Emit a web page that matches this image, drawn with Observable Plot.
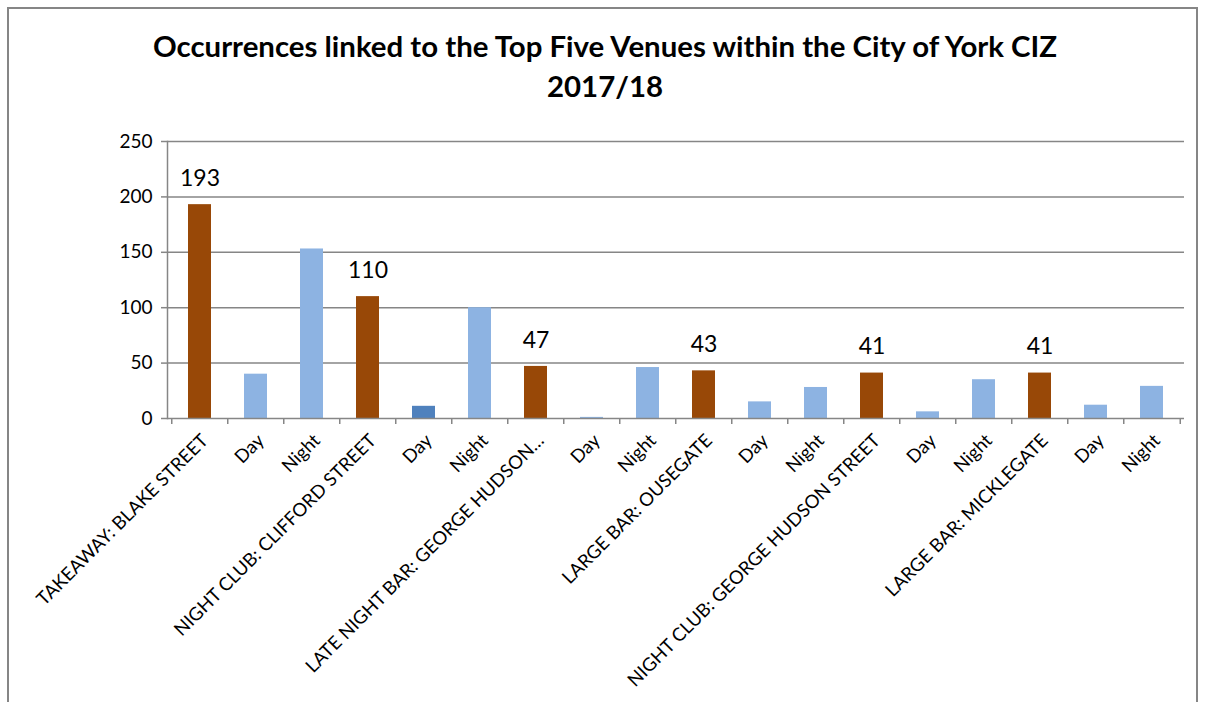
<!DOCTYPE html>
<html>
<head>
<meta charset="utf-8">
<script src="https://cdn.jsdelivr.net/npm/d3@7"></script>
<script src="https://cdn.jsdelivr.net/npm/@observablehq/plot@0.6"></script>
<style>
  html, body { margin: 0; padding: 0; background: #fff; overflow: hidden; }
  #wrap { position: relative; width: 1206px; height: 702px; }
  #border { position: absolute; left: 7px; top: 7px; width: 1191px; height: 800px; border: 2px solid #868686; box-sizing: border-box; }
  #title { position: absolute; left: 0; top: 26px; width: 1210px; text-align: center; font-family: Lato, sans-serif; font-weight: bold; font-size: 29.4px; line-height: 40px; color: #000; }
  #chart { position: absolute; left: 0; top: 0; }
</style>
</head>
<body>
<div id="wrap">
  <div id="border"></div>
  <div id="title">Occurrences linked to the Top Five Venues within the City of York CIZ<br>2017/18</div>
  <div id="chart"></div>
</div>
<script>
const categories = [
  "TAKEAWAY: BLAKE STREET", "Day", "Night",
  "NIGHT CLUB: CLIFFORD STREET", "Day", "Night",
  "LATE NIGHT BAR: GEORGE HUDSON…", "Day", "Night",
  "LARGE BAR: OUSEGATE", "Day", "Night",
  "NIGHT CLUB: GEORGE HUDSON STREET", "Day", "Night",
  "LARGE BAR: MICKLEGATE", "Day", "Night"
];
const values = [193, 40, 153, 110, 11, 100, 47, 1, 46, 43, 15, 28, 41, 6, 35, 41, 12, 29];
const kinds = ["Total", "Day", "Night", "Total", "Day", "Night", "Total", "Day", "Night",
               "Total", "Day", "Night", "Total", "Day", "Night", "Total", "Day", "Night"];
const highlighted = [4];
const yTicks = [0, 50, 100, 150, 200, 250];

const rows = categories.map((c, i) => ({i, label: c, value: values[i], kind: kinds[i]}));
const barColor = d => d.kind === "Total" ? "#984807" : (highlighted.includes(d.i) ? "#4f81bd" : "#8db3e2");
const step = (1206 - 167 - 22) / categories.length;

const chart = Plot.plot({
  width: 1206,
  height: 702,
  marginTop: 141,
  marginLeft: 167,
  marginRight: 22,
  marginBottom: 284,
  style: {fontFamily: "Lato, sans-serif", background: "transparent", overflow: "visible", color: "#000"},
  x: {type: "band", domain: d3.range(categories.length), paddingInner: 0.59, paddingOuter: 0.295},
  y: {domain: [0, 250]},
  marks: [
    Plot.gridY(yTicks.slice(1), {stroke: "#868686", strokeOpacity: 1, strokeWidth: 1.5}),
    Plot.barY(rows, {x: "i", y: "value", fill: barColor}),
    Plot.ruleY([0], {stroke: "#868686", strokeWidth: 1.5}),
    Plot.frame({anchor: "left", stroke: "#868686", strokeWidth: 1.5}),
    Plot.axisY({ticks: yTicks, tickSize: 6, tickPadding: 9, fontSize: 19, stroke: "#868686", strokeWidth: 1.5, fill: "#000", label: null}),
    Plot.axisX({ticks: d3.range(categories.length), tickFormat: () => "", tickSize: 6, dx: -step / 2, stroke: "#868686", strokeWidth: 1.5, label: null}),
    Plot.axisX({ticks: [categories.length - 1], tickFormat: () => "", tickSize: 6, dx: step / 2, stroke: "#868686", strokeWidth: 1.5, label: null}),
    Plot.axisX({tickSize: 0, tickRotate: -45, tickFormat: i => categories[i], fontSize: 18.5, tickPadding: 14, dx: 5, dy: 5, fill: "#000", label: null}),
    Plot.text(rows.filter(d => d.kind === "Total"), {x: "i", y: "value", text: d => String(d.value), dy: -26, fontSize: 23, fill: "#000"})
  ]
});
document.getElementById("chart").appendChild(chart);
</script>
</body>
</html>
